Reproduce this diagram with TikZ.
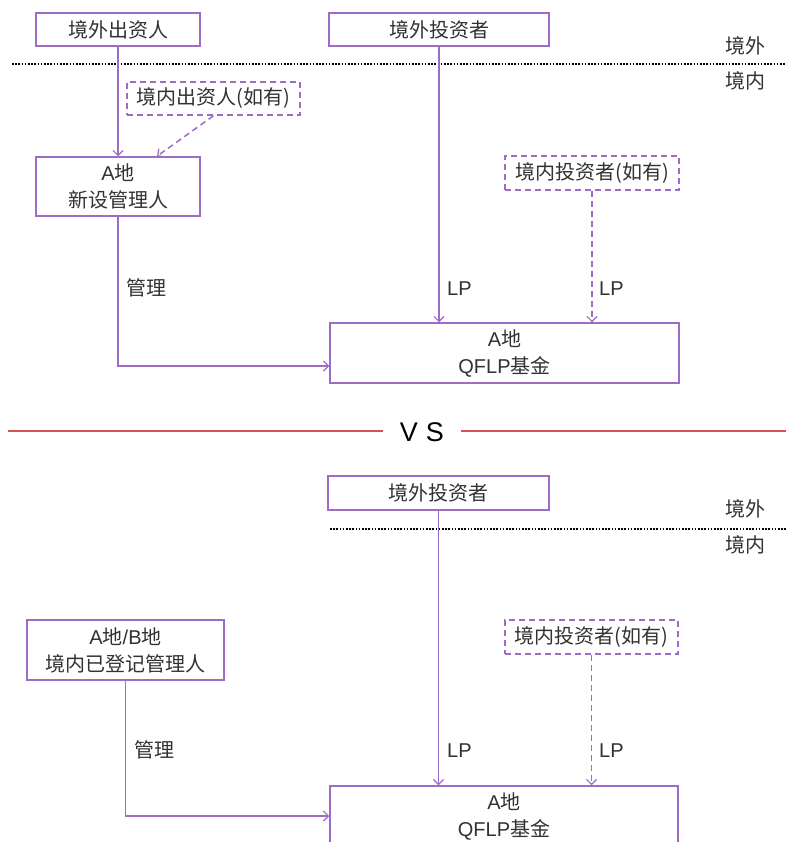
\documentclass[tikz,border=0pt]{standalone}
\usepackage{fontspec}
\setmainfont{Liberation Sans}
\newfontfamily\cjk{Noto Sans CJK SC}
\usetikzlibrary{arrows.meta}
\definecolor{purp}{RGB}{158,108,196}
\definecolor{txt}{RGB}{50,50,50}
\definecolor{redl}{RGB}{215,80,85}
\newcommand\zh[1]{{\cjk #1}}
\begin{document}
\begin{tikzpicture}[x=1pt,y=-1pt,
  every node/.style={text=txt,font=\fontsize{20}{27}\selectfont},
  box/.style={draw=purp,line width=1.5pt,inner sep=0pt,align=center},
  dbox/.style={box,dash pattern=on 6pt off 4pt},
  arr/.style={draw=purp,line width=1.5pt,-{Straight Barb[length=5pt,width=10pt,line width=1.2pt]}},
  darr/.style={arr,dash pattern=on 6pt off 4pt},
  lbl/.style={inner sep=0pt,anchor=west},
  dotline/.style={line width=1.6pt,dash pattern=on 1.6pt off 1.6pt,black},
  redline/.style={draw=redl,line width=1.5pt}]
\useasboundingbox (0,0) rectangle (786,842);
\fill[white] (0,0) rectangle (786,842);

% ---------- top diagram ----------
\node[box,minimum width=164pt,minimum height=33pt] (a1) at (118,29.5) {\zh{境外出资人}};
\node[box,minimum width=220pt,minimum height=33pt] (a2) at (439,29.5) {\zh{境外投资者}};
\draw[dotline] (12,64) -- (786,64);
\node[lbl] (o1) at (725,46) {\zh{境外}};
\node[lbl] (i1) at (725,81) {\zh{境内}};
\node[dbox,minimum width=173pt,minimum height=33pt] (d1) at (213.5,98.5) {\zh{境内出资人(如有)}};
\node[box,minimum width=164pt,minimum height=59pt] (m1) at (118,186.5) {A\zh{地}\\\zh{新设管理人}};
\node[dbox,minimum width=174pt,minimum height=34pt] (d2) at (592,173) {\zh{境内投资者(如有)}};
\node[box,minimum width=349pt,minimum height=60pt] (q1) at (504.5,353) {A\zh{地}\\QFLP\zh{基金}};

\draw[arr] (a1.south) -- (m1.north);
\draw[darr] (d1.south) -- ([xshift=39pt]m1.north);
\draw[arr] (m1.south) |- ([yshift=-13pt]q1.west);
\draw[arr] (a2.south) -- (a2.south |- q1.north);
\draw[darr] (d2.south) -- (d2.south |- q1.north);
\node[lbl] (g1) at (126,288) {\zh{管理}};
\node[lbl] (lp1) at (447,289) {LP};
\node[lbl] (lp2) at (599,289) {LP};

% ---------- VS separator ----------
\node[inner xsep=17pt,inner ysep=0pt,font=\fontsize{27}{30}\selectfont,text=black] (vs) at (422,432) {V\hspace{8pt}S};
\draw[redline] (8,431) -- (vs.west |- 0,431);
\draw[redline] (vs.east |- 0,431) -- (786,431);

% ---------- bottom diagram ----------
\node[box,minimum width=221pt,minimum height=34pt] (b2) at (438.5,493) {\zh{境外投资者}};
\draw[dotline] (330,529) -- (786,529);
\node[lbl] (o2) at (725,509) {\zh{境外}};
\node[lbl] (i2) at (725,545) {\zh{境内}};
\node[box,minimum width=197pt,minimum height=60pt] (m2) at (125.5,650) {A\zh{地}/B\zh{地}\\\zh{境内已登记管理人}};
\node[dbox,minimum width=173pt,minimum height=34pt] (d3) at (591.5,637) {\zh{境内投资者(如有)}};
\node[box,minimum width=348pt,minimum height=60pt] (q2) at (504,816) {A\zh{地}\\QFLP\zh{基金}};

\draw[arr] (b2.south) -- (b2.south |- q2.north);
\draw[darr] (d3.south) -- (d3.south |- q2.north);
\draw[arr] (m2.south) |- (q2.west);
\node[lbl] (g2) at (134,750) {\zh{管理}};
\node[lbl] (lp3) at (447,751) {LP};
\node[lbl] (lp4) at (599,751) {LP};
\end{tikzpicture}
\end{document}
